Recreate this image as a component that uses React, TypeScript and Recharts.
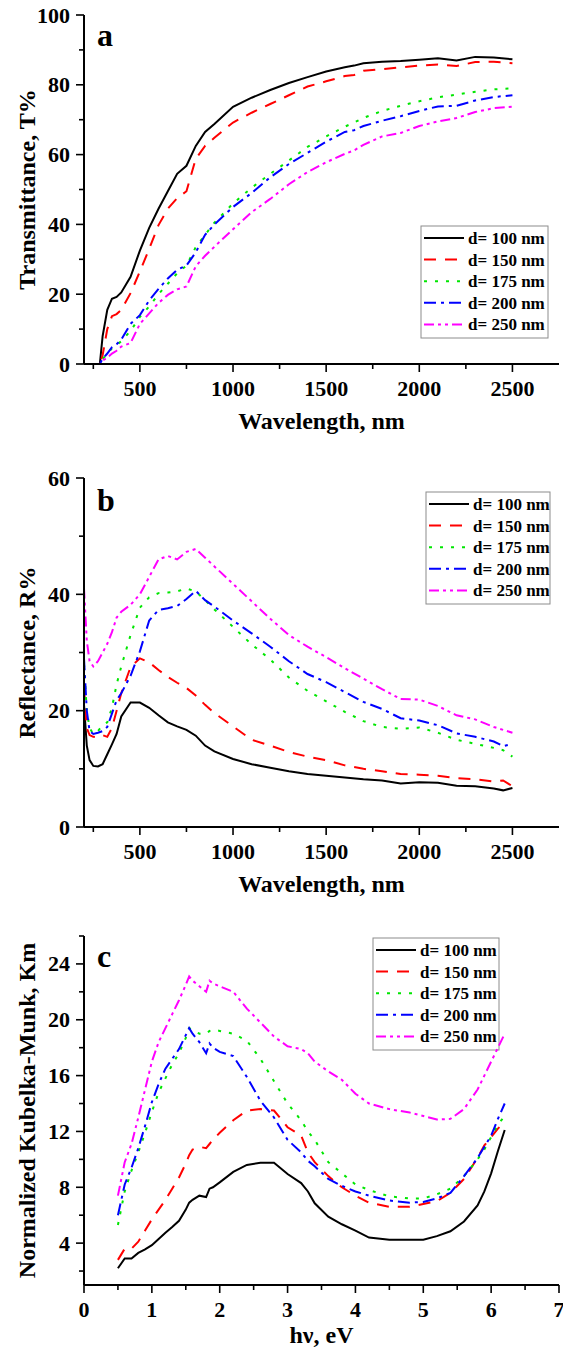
import React from 'react';
import { LineChart, Line, XAxis, YAxis } from 'recharts';

const FONT = '"Liberation Serif", "Times New Roman", serif';

// (a) transmittance vs wavelength
const wlA = [200, 250, 285, 300, 325, 350, 375, 400, 450, 500, 550, 600, 650, 700, 750, 800, 850, 900, 1000, 1100, 1200, 1300, 1400, 1500, 1600, 1650, 1700, 1800, 1900, 2000, 2100, 2200, 2300, 2400, 2500];
const tA100 = [0, 0, 0, 8, 15.5, 18.7, 19.2, 20.5, 25, 32.5, 39, 44.5, 49.5, 54.5, 56.8, 62.5, 66.5, 68.8, 73.7, 76.3, 78.5, 80.5, 82.2, 83.8, 85, 85.5, 86.2, 86.6, 86.8, 87.2, 87.6, 87, 88, 87.8, 87.3];
const tA150 = [0, 0, 0, 2.5, 10, 13.7, 14.3, 15.5, 20.3, 26.5, 33, 39.8, 44.5, 47.5, 49.5, 58.8, 62.5, 64.8, 69.2, 72, 74.5, 77, 79.5, 81, 82.5, 82.8, 84, 84.5, 85, 85.5, 85.8, 85.4, 86.5, 86.6, 86.2];
const tA175 = [0, 0, 0, 1.5, 2.8, 4.5, 5.5, 6.5, 9.5, 13.5, 16.5, 20, 23, 26, 28.2, 33.5, 37, 40.5, 46, 50.5, 54.5, 58.3, 62.2, 65.2, 68, 69.2, 70.5, 72.5, 74, 75.3, 76.4, 77.2, 78, 78.7, 79];
const tA200 = [0, 0, 0, 1.5, 3, 4.8, 5.7, 7, 11.5, 14, 18.2, 21.5, 24.5, 27, 28.2, 32, 37, 40, 45, 49, 53.5, 57.3, 60.5, 63.7, 66.5, 67, 68.2, 69.7, 71, 72.5, 73.8, 74, 75.5, 76.5, 77];
const tA250 = [0, 0, 0, 1, 1.8, 3, 3.8, 5, 6, 11.5, 14.5, 17.5, 19.8, 21.4, 22.2, 28, 31, 33.6, 38.6, 43.5, 47.3, 51.5, 55, 57.8, 60.2, 61.2, 62.8, 65.2, 66.2, 68.2, 69.5, 70.5, 72.2, 73.3, 73.7];

// (b) reflectance vs wavelength
const wlB = [200, 215, 230, 250, 275, 300, 325, 350, 375, 400, 450, 500, 550, 600, 650, 700, 750, 800, 850, 900, 1000, 1100, 1200, 1300, 1400, 1500, 1600, 1700, 1800, 1900, 2000, 2100, 2200, 2300, 2400, 2450, 2500];
const rB100 = [21, 14, 11.5, 10.5, 10.4, 10.8, 12.5, 14.2, 16, 19, 21.4, 21.4, 20.5, 19.2, 18, 17.3, 16.7, 15.7, 14, 13, 11.7, 10.8, 10.2, 9.6, 9.1, 8.8, 8.5, 8.2, 8, 7.5, 7.7, 7.6, 7.1, 7, 6.6, 6.3, 6.7];
const rB150 = [24, 17, 15.8, 15.5, 15.4, 15.8, 15.5, 17, 20, 23, 27.5, 29, 28.3, 27, 25.8, 24.8, 23.9, 22.6, 21, 19.6, 17.3, 15, 14, 12.9, 12.1, 11.5, 10.6, 10, 9.6, 9.1, 9, 8.8, 8.4, 8.2, 7.8, 8, 7];
const rB175 = [28, 20, 17, 16, 16.5, 17.5, 18, 20.5, 24.5, 27.6, 33, 37.7, 39.5, 40.2, 40.3, 40.5, 41, 40.5, 39, 37.4, 34.4, 31.4, 28.8, 25.7, 23.4, 21.6, 19.8, 18.2, 17.2, 16.9, 17.1, 16.2, 15, 14.3, 13.6, 13.2, 12.1];
const rB200 = [29, 20, 16.5, 16, 16.2, 16.5, 17.2, 19.5, 21.8, 23, 26, 30.2, 35.5, 37.3, 37.6, 38, 39.2, 40.6, 39, 37.9, 35.5, 33.3, 31, 28.5, 26.3, 24.9, 23.2, 21.5, 20.3, 18.7, 18.3, 17.5, 16.1, 15.5, 14.7, 13.9, 14.3];
const rB250 = [41, 32, 28.5, 27.6, 28.5, 30, 31.5, 33.5, 36, 37, 38.2, 40, 43, 46, 46.6, 46, 47.3, 47.8, 46.3, 44.8, 41.8, 38.8, 35.8, 33, 31, 29.2, 27.3, 25.5, 23.7, 22, 21.9, 20.8, 19.2, 18.5, 17.2, 16.7, 16.2];

// (c) normalized Kubelka-Munk vs photon energy
const evC = [0.5, 0.6, 0.7, 0.8, 0.9, 1.0, 1.1, 1.2, 1.3, 1.4, 1.5, 1.55, 1.6, 1.7, 1.8, 1.85, 1.9, 2.0, 2.2, 2.4, 2.6, 2.8, 3.0, 3.2, 3.3, 3.4, 3.6, 3.8, 4.0, 4.2, 4.5, 4.8, 5.0, 5.2, 5.4, 5.6, 5.8, 5.9, 6.0, 6.1, 6.2];
const kC100 = [2.2, 2.9, 2.9, 3.3, 3.55, 3.85, 4.3, 4.75, 5.15, 5.6, 6.4, 6.9, 7.1, 7.4, 7.3, 7.9, 8, 8.35, 9.1, 9.6, 9.75, 9.75, 8.95, 8.3, 7.7, 6.85, 5.9, 5.35, 4.9, 4.4, 4.25, 4.25, 4.25, 4.5, 4.85, 5.55, 6.7, 7.7, 9.0, 10.6, 12.1];
const kC150 = [2.8, 3.6, 3.6, 4.1, 4.9, 5.7, 6.4, 7.1, 7.9, 8.7, 9.7, 10.3, 10.7, 10.9, 10.8, 11.1, 11.4, 11.9, 12.8, 13.5, 13.6, 13.5, 12.3, 11.7, 10.5, 9.8, 8.8, 8.0, 7.4, 6.9, 6.6, 6.6, 6.8, 7.0, 7.6, 8.6, 10.1, 11.0, 11.6, 12.2, 12.7];
const kC175 = [5.3, 7.7, 9.2, 10.5, 11.9, 13.4, 14.8, 15.8, 16.8, 17.6, 18.7, 19.4, 19.3, 19.0, 19.0, 19.2, 19.3, 19.2, 19.0, 18.5, 17.2, 15.6, 14.0, 12.8, 12.0, 11.4, 9.8, 9.0, 8.2, 7.8, 7.35, 7.2, 7.2, 7.5, 7.9, 8.8, 10.0, 10.7, 11.6, 12.5, 13.1];
const kC200 = [6.0, 8.2, 9.4, 10.8, 12.4, 14.1, 15.4, 16.5, 17.2, 17.9, 18.9, 19.4, 19.0, 18.4, 17.6, 18.3, 18.0, 17.7, 17.4, 15.9, 14.2, 13.0, 11.4, 10.5, 9.9, 9.5, 8.6, 8.1, 7.7, 7.4, 7.05, 6.9, 6.95, 7.2, 7.6, 8.8, 10.1, 10.9, 11.7, 12.9, 14.0];
const kC250 = [7.4, 9.8, 11.1, 13.0, 15.0, 17.0, 18.4, 19.4, 20.4, 21.4, 22.5, 23.1, 22.8, 22.4, 22.0, 22.8, 22.6, 22.4, 22.0, 20.8, 19.8, 18.8, 18.1, 17.9, 17.6, 17.0, 16.3, 15.7, 14.7, 14.0, 13.6, 13.35, 13.1, 12.85, 12.9, 13.6, 15.0, 16.0, 17.0, 18.0, 19.0];

// tick values (every listed tick gets a mark, majors also get a label)
const wlTicks = [250, 500, 750, 1000, 1250, 1500, 1750, 2000, 2250, 2500];
const wlMajor = [500, 1000, 1500, 2000, 2500];
const tTicks = [0, 10, 20, 30, 40, 50, 60, 70, 80, 90, 100];
const tMajor = [0, 20, 40, 60, 80, 100];
const rTicks = [0, 10, 20, 30, 40, 50, 60];
const rMajor = [0, 20, 40, 60];
const evTicks = [0, 0.5, 1, 1.5, 2, 2.5, 3, 3.5, 4, 4.5, 5, 5.5, 6, 6.5, 7];
const evMajor = [0, 1, 2, 3, 4, 5, 6, 7];
const kTicks = [2, 4, 6, 8, 10, 12, 14, 16, 18, 20, 22, 24, 26];
const kMajor = [4, 8, 12, 16, 20, 24];

const series = [
  { key: 'd100', name: 'd= 100 nm', color: '#000000', dash: undefined },
  { key: 'd150', name: 'd= 150 nm', color: '#ff0000', dash: '12 9' },
  { key: 'd175', name: 'd= 175 nm', color: '#00e600', dash: '3 8' },
  { key: 'd200', name: 'd= 200 nm', color: '#0000ff', dash: '12 5 3 5' },
  { key: 'd250', name: 'd= 250 nm', color: '#ff00ff', dash: '10 4 3 4 3 4' },
];

const toRows = (xs: number[], cols: number[][]) =>
  xs.map((x, i) => {
    const row: any = { x };
    series.forEach((s, j) => { row[s.key] = cols[j][i]; });
    return row;
  });

const rowsA = toRows(wlA, [tA100, tA150, tA175, tA200, tA250]);
const rowsB = toRows(wlB, [rB100, rB150, rB175, rB200, rB250]);
const rowsC = toRows(evC, [kC100, kC150, kC175, kC200, kC250]);

const bottomTick = (majors: number[]) => (p: any) => {
  const { x, y, payload } = p;
  const major = majors.includes(payload.value);
  return (
    <g>
      <line x1={x} x2={x} y1={y} y2={y + (major ? 8 : 5)} stroke="#000" strokeWidth={1.6} />
      {major && (
        <text x={x} y={y + 32} textAnchor="middle" fontFamily={FONT} fontWeight="bold" fontSize={22} fill="#000">
          {payload.value}
        </text>
      )}
    </g>
  );
};

const leftTick = (majors: number[]) => (p: any) => {
  const { x, y, payload } = p;
  const major = majors.includes(payload.value);
  return (
    <g>
      <line x1={x} x2={x - (major ? 8 : 5)} y1={y} y2={y} stroke="#000" strokeWidth={1.6} />
      {major && (
        <text x={x - 14} y={y + 7.5} textAnchor="end" fontFamily={FONT} fontWeight="bold" fontSize={22} fill="#000">
          {payload.value}
        </text>
      )}
    </g>
  );
};

function PanelLegend({ x, y, w }: { x: number; y: number; w: number }) {
  const rowH = 21.6;
  return (
    <g>
      <rect x={x} y={y} width={w} height={rowH * 5 + 4} fill="#fff" stroke="#8c8c8c" strokeWidth={1} />
      {series.map((s, i) => {
        const cy = y + 12 + i * rowH;
        return (
          <g key={s.key}>
            <line x1={x + 3} x2={x + 43} y1={cy} y2={cy} stroke={s.color} strokeWidth={2} strokeDasharray={s.dash} />
            <text x={x + 47} y={cy + 6} fontFamily={FONT} fontWeight="bold" fontSize={17} fill="#000">
              {s.name}
            </text>
          </g>
        );
      })}
    </g>
  );
}

type PanelProps = {
  rows: any[];
  height: number;
  top: number;
  xDomain: [number, number];
  xTicks: number[];
  xMajor: number[];
  yDomain: [number, number];
  yTicks: number[];
  yMajor: number[];
  xTitle: string;
  xTitleGap: number;
  yTitle: string;
  letter: string;
  letterY: number;
  legend: { x: number; y: number; w: number };
};

const PLOT_H = 349;

function Panel(p: PanelProps) {
  const axisLine = { stroke: '#000', strokeWidth: 2 };
  const bottom = p.top + PLOT_H;
  const midY = p.top + PLOT_H / 2;
  return (
    <LineChart width={563} height={p.height} data={p.rows} margin={{ top: p.top, right: 4, bottom: 0, left: 0 }}>
      <XAxis
        dataKey="x"
        type="number"
        domain={p.xDomain}
        ticks={p.xTicks}
        interval={0}
        allowDataOverflow
        tickSize={0}
        tickMargin={0}
        tickLine={false}
        tick={bottomTick(p.xMajor)}
        axisLine={axisLine}
        height={p.height - bottom}
      />
      <XAxis xAxisId="top" orientation="top" type="number" domain={p.xDomain} height={0} tick={false} tickLine={false} axisLine={axisLine} />
      <YAxis
        type="number"
        domain={p.yDomain}
        ticks={p.yTicks}
        interval={0}
        allowDataOverflow
        tickSize={0}
        tickMargin={0}
        tickLine={false}
        tick={leftTick(p.yMajor)}
        axisLine={axisLine}
        width={84}
      />
      <YAxis yAxisId="right" orientation="right" type="number" domain={p.yDomain} width={0} tick={false} tickLine={false} axisLine={axisLine} />
      {series.map((s) => (
        <Line
          key={s.key}
          dataKey={s.key}
          name={s.name}
          type="linear"
          stroke={s.color}
          strokeWidth={2}
          strokeDasharray={s.dash}
          dot={false}
          activeDot={false}
          isAnimationActive={false}
        />
      ))}
      <PanelLegend x={p.legend.x} y={p.legend.y} w={p.legend.w} />
      <text x={97} y={p.letterY} fontFamily={FONT} fontWeight="bold" fontSize={32} fill="#000">
        {p.letter}
      </text>
      <text
        x={27}
        y={midY}
        transform={`rotate(-90 27 ${midY})`}
        textAnchor="middle"
        dominantBaseline="central"
        fontFamily={FONT}
        fontWeight="bold"
        fontSize={24}
        fill="#000"
      >
        {p.yTitle}
      </text>
      <text x={321.5} y={bottom + p.xTitleGap} textAnchor="middle" fontFamily={FONT} fontWeight="bold" fontSize={24} fill="#000">
        {p.xTitle}
      </text>
    </LineChart>
  );
}

export default function App() {
  return (
    <div style={{ position: 'absolute', left: 0, top: 0, width: 563, background: '#fff' }}>
      <Panel
        rows={rowsA}
        height={460}
        top={15}
        xDomain={[200, 2750]}
        xTicks={wlTicks}
        xMajor={wlMajor}
        yDomain={[0, 100]}
        yTicks={tTicks}
        yMajor={tMajor}
        xTitle="Wavelength, nm"
        xTitleGap={65}
        yTitle="Transmittance, T%"
        letter="a"
        letterY={46}
        legend={{ x: 421, y: 226, w: 127 }}
      />
      <Panel
        rows={rowsB}
        height={460}
        top={18}
        xDomain={[200, 2750]}
        xTicks={wlTicks}
        xMajor={wlMajor}
        yDomain={[0, 60]}
        yTicks={rTicks}
        yMajor={rMajor}
        xTitle="Wavelength, nm"
        xTitleGap={65}
        yTitle="Reflectance, R%"
        letter="b"
        letterY={51}
        legend={{ x: 426, y: 32, w: 124 }}
      />
      <Panel
        rows={rowsC}
        height={432}
        top={16}
        xDomain={[0, 7]}
        xTicks={evTicks}
        xMajor={evMajor}
        yDomain={[1, 26]}
        yTicks={kTicks}
        yMajor={kMajor}
        xTitle="hν, eV"
        xTitleGap={58}
        yTitle="Normalized Kubelka-Munk, Km"
        letter="c"
        letterY={47}
        legend={{ x: 373, y: 18, w: 126 }}
      />
    </div>
  );
}
